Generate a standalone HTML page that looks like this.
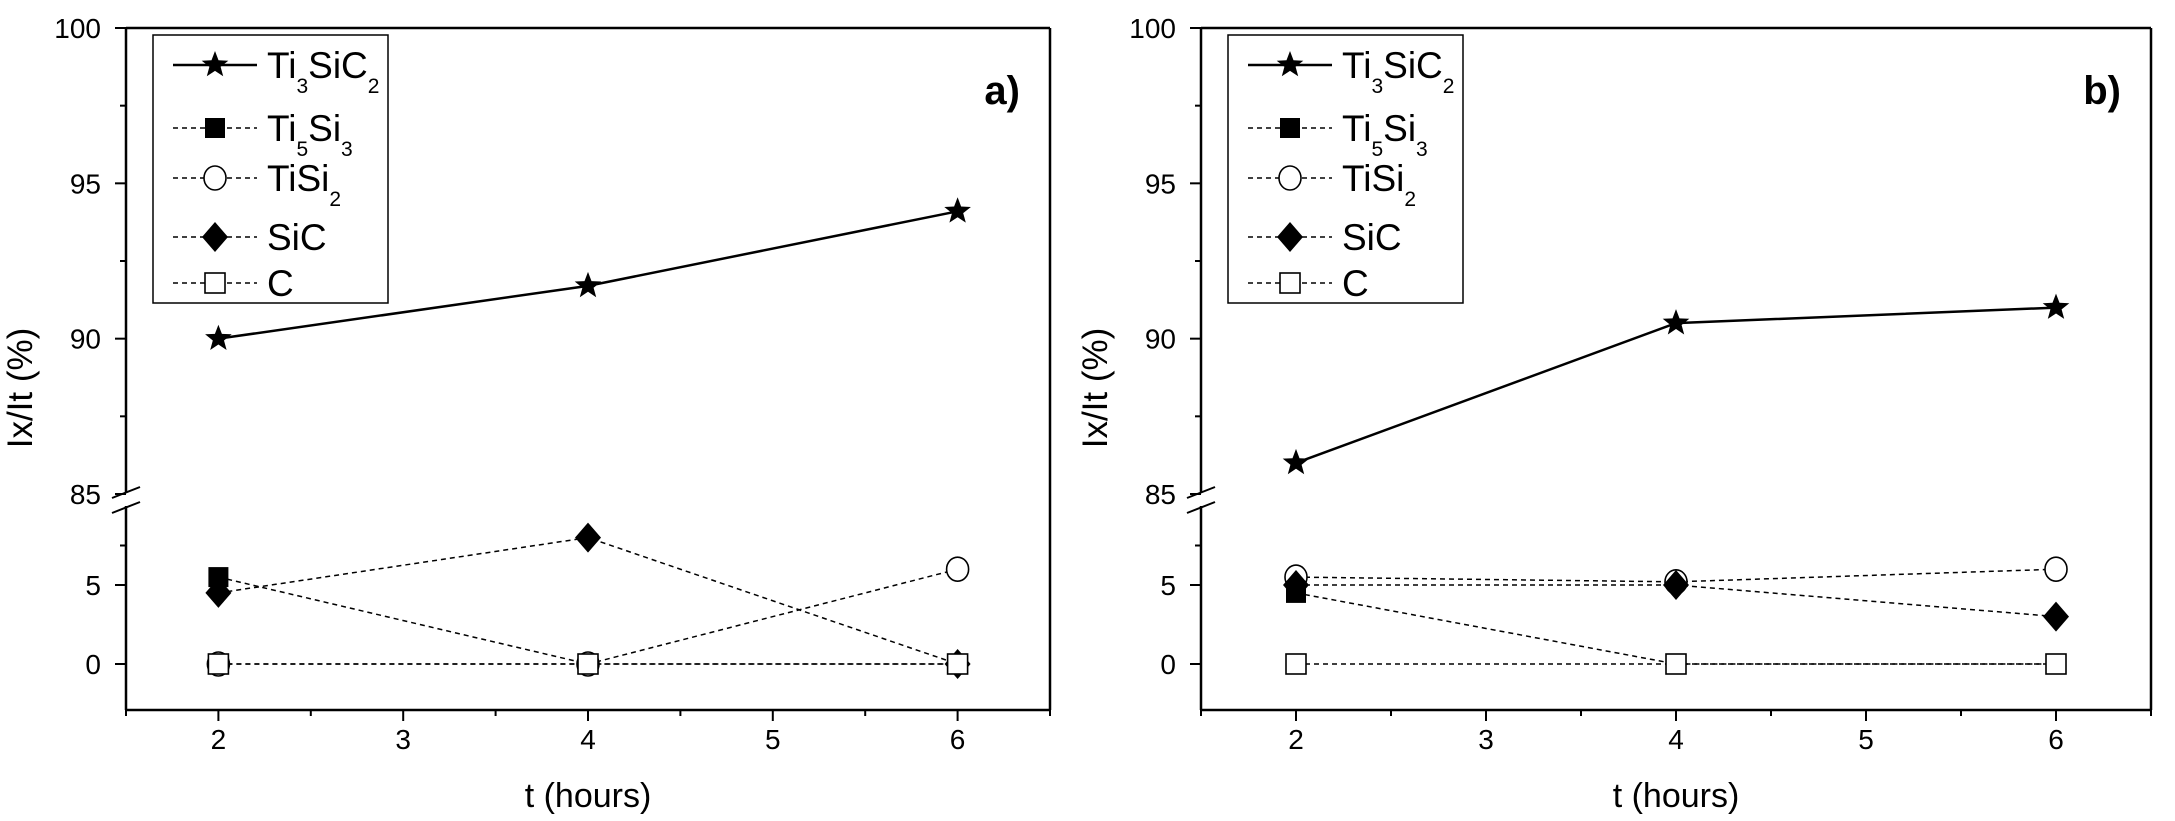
<!DOCTYPE html>
<html><head><meta charset="utf-8"><style>
html,body{margin:0;padding:0;background:#fff;}
svg{display:block;font-family:"Liberation Sans",Arial,sans-serif;}
</style></head><body>
<svg id="fig" width="2175" height="821" viewBox="0 0 2175 821" xmlns="http://www.w3.org/2000/svg"></svg>
<script>
const hours = [2, 4, 6];
const seriesNames = ["Ti3SiC2", "Ti5Si3", "TiSi2", "SiC", "C"];
const aTi3SiC2 = [90, 91.7, 94.1];
const aTi5Si3 = [5.5, 0, 0];
const aTiSi2 = [0, 0, 6];
const aSiC = [4.5, 8, 0];
const aC = [0, 0, 0];
const bTi3SiC2 = [86, 90.5, 91];
const bTi5Si3 = [4.5, 0, 0];
const bTiSi2 = [5.5, 5.2, 6];
const bSiC = [5, 5, 3];
const bC = [0, 0, 0];
const xTicks = [2, 3, 4, 5, 6];
const yTicksUpper = [85, 90, 95, 100];
const yTicksLower = [0, 5];

const NS = "http://www.w3.org/2000/svg";
const svg = document.getElementById("fig");
function mk(tag, attrs, parent) {
  const e = document.createElementNS(NS, tag);
  for (const k in attrs) e.setAttribute(k, attrs[k]);
  (parent || svg).appendChild(e);
  return e;
}
const TOP = 28, BOT = 710;
function yScale(v) {
  if (v >= 50) return 494 - (v - 85) * (494 - TOP) / 15;
  return 664 - v * 15.8;
}
function starPts(cx, cy, R) {
  const r = R * 0.42; let p = [];
  for (let i = 0; i < 10; i++) {
    const a = -Math.PI / 2 + i * Math.PI / 5, rr = i % 2 ? r : R;
    p.push((cx + rr * Math.cos(a)).toFixed(1) + "," + (cy + rr * Math.sin(a)).toFixed(1));
  }
  return p.join(" ");
}
function marker(g, kind, cx, cy) {
  let m;
  if (kind === 0) m = mk("polygon", {points: starPts(cx, cy, 14), fill: "#000"}, g);
  else if (kind === 1) m = mk("rect", {x: cx - 10, y: cy - 10, width: 20, height: 20, fill: "#000"}, g);
  else if (kind === 2) m = mk("ellipse", {cx: cx, cy: cy, rx: 11, ry: 12, fill: "#fff", stroke: "#000", "stroke-width": 1.6}, g);
  else if (kind === 3) m = mk("polygon", {points: `${cx},${cy-15} ${cx+13},${cy} ${cx},${cy+15} ${cx-13},${cy}`, fill: "#000"}, g);
  else m = mk("rect", {x: cx - 10, y: cy - 10, width: 20, height: 20, fill: "#fff", stroke: "#000", "stroke-width": 1.6}, g);
  return m;
}
const subs = [["Ti","3","SiC","2"],["Ti","5","Si","3"],["TiSi","2"],["SiC"],["C"]];

function panel(id, L, R, data, label) {
  const g = mk("g", {});
  
  
  const xS = x => L + (x - 1.5) * (R - L) / 5;
  mk("line", {x1: L, y1: TOP, x2: R, y2: TOP, stroke: "#000", "stroke-width": 2.5}, g);
  mk("line", {x1: R, y1: TOP, x2: R, y2: BOT, stroke: "#000", "stroke-width": 2.5}, g);
  const xa = mk("line", {x1: L, y1: BOT, x2: R, y2: BOT, stroke: "#000", "stroke-width": 2.5}, g);
  
  
  const ya = mk("line", {x1: L, y1: TOP, x2: L, y2: 492, stroke: "#000", "stroke-width": 2.5}, g);
  
  
  const yb = mk("line", {x1: L, y1: 506, x2: L, y2: BOT, stroke: "#000", "stroke-width": 2.5}, g);
  
  
  const br = mk("g", {}, g);
  
  
  mk("line", {x1: L - 14, y1: 498, x2: L + 14, y2: 487, stroke: "#000", "stroke-width": 2}, br);
  mk("line", {x1: L - 14, y1: 513, x2: L + 14, y2: 502, stroke: "#000", "stroke-width": 2}, br);
  const yt = yTicksUpper.concat(yTicksLower);
  yt.forEach(v => {
    const y = yScale(v);
    mk("line", {x1: L - 11, y1: y, x2: L, y2: y, stroke: "#000", "stroke-width": 2}, g);
    const t = mk("text", {x: L - 25, y: y + 10, "text-anchor": "end", "font-size": 28}, g);
    t.textContent = v;
    
    
  });
  [87.5, 92.5, 97.5, 7.5].forEach(v => {
    const y = yScale(v);
    mk("line", {x1: L - 6, y1: y, x2: L, y2: y, stroke: "#000", "stroke-width": 2}, g);
  });
  xTicks.forEach(v => {
    const x = xS(v);
    mk("line", {x1: x, y1: BOT, x2: x, y2: BOT + 11, stroke: "#000", "stroke-width": 2}, g);
    const t = mk("text", {x: x, y: BOT + 39, "text-anchor": "middle", "font-size": 28}, g);
    t.textContent = v;
    
    
  });
  for (let v = 1.5; v <= 6.5; v += 0.5) {
    if (Number.isInteger(v)) continue;
    const x = xS(v);
    mk("line", {x1: x, y1: BOT, x2: x, y2: BOT + 6, stroke: "#000", "stroke-width": 2}, g);
  }
  const xt = mk("text", {x: (L + R) / 2, y: 807, "text-anchor": "middle", "font-size": 34}, g);
  xt.textContent = "t (hours)";
  
  
  const ytl = mk("text", {x: 0, y: 0, "text-anchor": "middle", "font-size": 35, transform: `translate(${L - 94},388) rotate(-90)`}, g);
  ytl.textContent = "Ix/It (%)";
  
  
  const pl = mk("text", {x: R - 30, y: 104, "text-anchor": "end", "font-size": 40, "font-weight": "bold"}, g);
  pl.textContent = label;
  
  
  for (let s = 0; s <= 4; s++) {
    const vals = data[s];
    const sg = mk("g", {}, g);
    
    
    const pts = hours.map((h, i) => xS(h) + "," + yScale(vals[i])).join(" ");
    const attrs = {points: pts, fill: "none", stroke: "#000"};
    if (s === 0) attrs["stroke-width"] = 2.5; else { attrs["stroke-width"] = 1.5; attrs["stroke-dasharray"] = "5 4"; }
    mk("polyline", attrs, sg);
    hours.forEach((h, i) => {
      const m = marker(sg, s, xS(h), yScale(vals[i]));
      
      
    });
  }
  const lx = L + 27;
  const lg = mk("g", {}, g);
  
  
  mk("rect", {x: lx, y: 35, width: 235, height: 268, fill: "#fff", stroke: "#000", "stroke-width": 1.5}, lg);
  const rows = [65, 128, 178, 237, 283];
  rows.forEach((ry, s) => {
    const e = mk("g", {}, lg);
    
    
    const la = {x1: lx + 20, y1: ry, x2: lx + 104, y2: ry, stroke: "#000"};
    if (s === 0) la["stroke-width"] = 2.5; else { la["stroke-width"] = 1.5; la["stroke-dasharray"] = "5 4"; }
    mk("line", la, e);
    marker(e, s, lx + 62, ry);
    const t = mk("text", {x: lx + 114, y: ry + 13, "font-size": 37}, e);
    subs[s].forEach((p, i) => {
      const ts = mk("tspan", i % 2 ? {"font-size": 21, dy: 15} : (i > 0 ? {dy: -15} : {}), t);
      ts.textContent = p;
    });
  });
}
panel("a", 126, 1050, [aTi3SiC2, aTi5Si3, aTiSi2, aSiC, aC], "a)");
panel("b", 1201, 2151, [bTi3SiC2, bTi5Si3, bTiSi2, bSiC, bC], "b)");
</script>
</body></html>
